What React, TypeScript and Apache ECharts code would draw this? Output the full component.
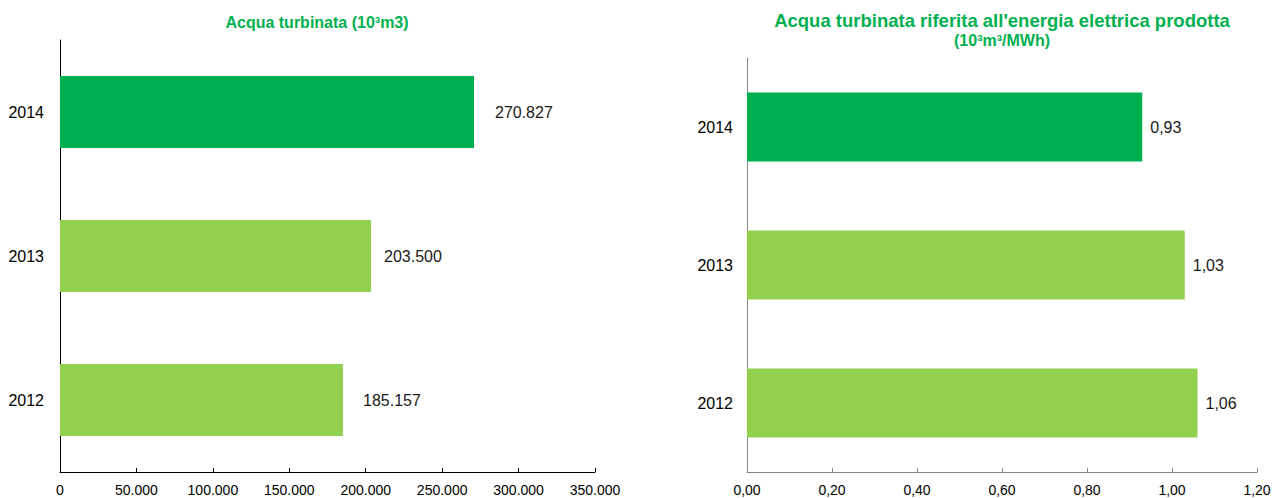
import React, { useEffect, useRef } from "react";
import * as echarts from "echarts";

const years = ["2012", "2013", "2014"];
const acquaTurbinata = [185157, 203500, 270827];
const acquaRiferita = [1.06, 1.03, 0.93];
const leftTicks = { min: 0, max: 350000, interval: 50000 };
const rightTicks = { min: 0, max: 1.2, interval: 0.2 };
const leftTitle = "Acqua turbinata (10³m3)";
const rightTitleLine1 = "Acqua turbinata riferita all'energia elettrica prodotta";
const rightTitleLine2 = "(10³m³/MWh)";

const DARK = "#00b050";
const LIGHT = "#92d050";
const FONT = "Liberation Sans, Arial, sans-serif";

const fmtThousands = (v: number) =>
  v === 0 ? "0" : String(Math.round(v)).replace(/\B(?=(\d{3})+(?!\d))/g, ".");
const fmtComma = (v: number) => v.toFixed(2).replace(".", ",");

export default function App() {
  const ref = useRef<HTMLDivElement>(null);
  useEffect(() => {
    if (!ref.current) return;
    const chart = echarts.init(ref.current, null, { renderer: "svg" });
    const leftDist = [20, 13, 21];
    const rightDist = [8, 8, 8];
    const option: any = {
      animation: false,
      textStyle: { fontFamily: FONT },
      title: [
        {
          text: leftTitle,
          left: 312,
          top: 9,
          textAlign: "center",
          textStyle: { color: DARK, fontSize: 16, fontWeight: "bold", fontFamily: FONT },
        },
        {
          text: "{a|" + rightTitleLine1 + "}\n{b|" + rightTitleLine2 + "}",
          left: 997,
          top: 5,
          textAlign: "center",
          textStyle: {
            rich: {
              a: { color: DARK, fontSize: 18.5, fontWeight: "bold", fontFamily: FONT, lineHeight: 20, align: "center" },
              b: { color: DARK, fontSize: 16, fontWeight: "bold", fontFamily: FONT, lineHeight: 20, align: "center" },
            },
          },
        },
      ],
      grid: [
        { left: 60, top: 40, width: 535, height: 432 },
        { left: 747, top: 58, width: 510, height: 414 },
      ],
      xAxis: [
        {
          gridIndex: 0,
          type: "value",
          ...leftTicks,
          splitLine: { show: false },
          axisLine: { show: true, lineStyle: { color: "#000", width: 1 } },
          axisTick: { show: true, inside: true, length: 4, lineStyle: { color: "#000" } },
          axisLabel: { color: "#000", fontSize: 14, margin: 11, formatter: fmtThousands, fontFamily: FONT },
        },
        {
          gridIndex: 1,
          type: "value",
          ...rightTicks,
          splitLine: { show: false },
          axisLine: { show: true, lineStyle: { color: "#868686", width: 1 } },
          axisTick: { show: true, inside: true, length: 4, lineStyle: { color: "#868686" } },
          axisLabel: { color: "#000", fontSize: 14, margin: 11, formatter: fmtComma, fontFamily: FONT },
        },
      ],
      yAxis: [
        {
          gridIndex: 0,
          type: "category",
          data: years,
          axisLine: { show: true, lineStyle: { color: "#000", width: 1 } },
          axisTick: { show: false },
          axisLabel: { color: "#000", fontSize: 16, margin: 16, fontFamily: FONT },
        },
        {
          gridIndex: 1,
          type: "category",
          data: years,
          axisLine: { show: true, lineStyle: { color: "#868686", width: 1 } },
          axisTick: { show: false },
          axisLabel: { color: "#000", fontSize: 16, margin: 14, fontFamily: FONT },
        },
      ],
      series: [
        {
          type: "bar",
          xAxisIndex: 0,
          yAxisIndex: 0,
          barWidth: "50%",
          data: acquaTurbinata.map((v, i) => ({
            value: v,
            itemStyle: { color: i === years.length - 1 ? DARK : LIGHT },
            label: { distance: leftDist[i] },
          })),
          label: {
            show: true,
            position: "right",
            color: "#1a1a1a",
            fontSize: 16,
            fontFamily: FONT,
            formatter: (p: any) => fmtThousands(p.value),
          },
        },
        {
          type: "bar",
          xAxisIndex: 1,
          yAxisIndex: 1,
          barWidth: "50%",
          data: acquaRiferita.map((v, i) => ({
            value: v,
            itemStyle: { color: i === years.length - 1 ? DARK : LIGHT },
            label: { distance: rightDist[i] },
          })),
          label: {
            show: true,
            position: "right",
            color: "#1a1a1a",
            fontSize: 16,
            fontFamily: FONT,
            formatter: (p: any) => fmtComma(p.value),
          },
        },
      ],
    };
    chart.setOption(option);
    return () => chart.dispose();
  }, []);
  return (
    <div
      ref={ref}
      style={{ position: "fixed", left: 0, top: 0, width: 1275, height: 498, background: "#fff" }}
    />
  );
}
